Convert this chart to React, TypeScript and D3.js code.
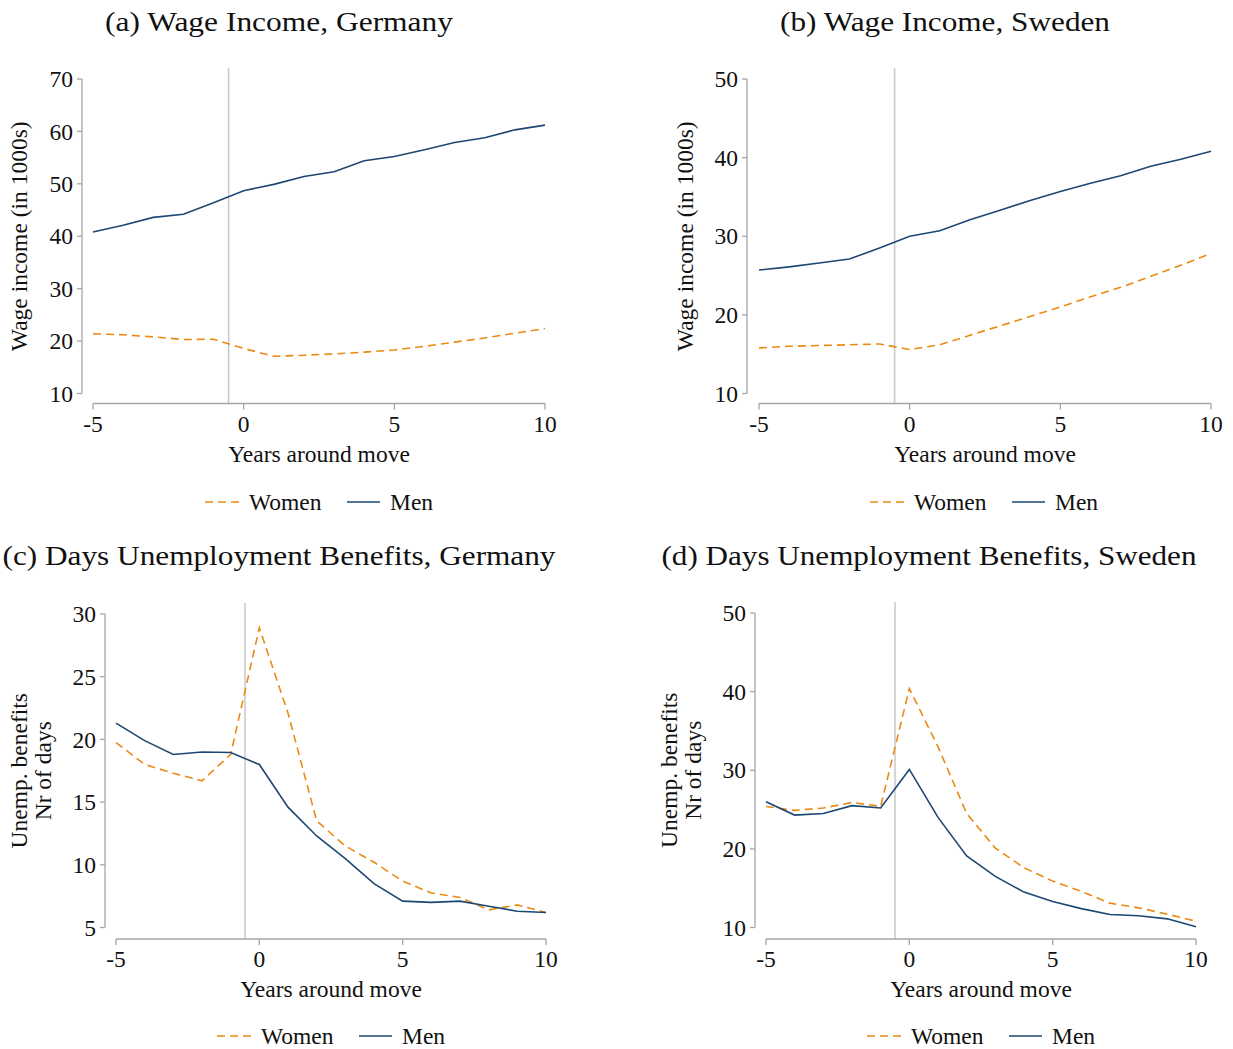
import React from 'react'
import * as d3 from 'd3'

// years around the move
const years = [-5, -4, -3, -2, -1, 0, 1, 2, 3, 4, 5, 6, 7, 8, 9, 10]

// (a) wage income Germany, in 1000s
const wageDeWomen = [21.4, 21.2, 20.8, 20.3, 20.35, 18.6, 17.1, 17.3, 17.55, 17.9, 18.3, 19.0, 19.8, 20.6, 21.5, 22.4]
const wageDeMen = [40.8, 42.1, 43.6, 44.2, 46.4, 48.7, 49.9, 51.4, 52.3, 54.4, 55.2, 56.5, 57.9, 58.8, 60.3, 61.2]

// (b) wage income Sweden, in 1000s
const wageSeWomen = [15.8, 16.0, 16.1, 16.2, 16.3, 15.6, 16.2, 17.4, 18.6, 19.8, 21.0, 22.3, 23.5, 24.9, 26.3, 27.8]
const wageSeMen = [25.7, 26.1, 26.6, 27.1, 28.5, 30.0, 30.7, 32.1, 33.3, 34.55, 35.7, 36.75, 37.7, 38.9, 39.8, 40.8]

// (c) days of unemployment benefits, Germany
const ubDeWomen = [19.75, 18.0, 17.3, 16.7, 18.8, 28.9, 22.1, 13.5, 11.5, 10.2, 8.7, 7.75, 7.4, 6.4, 6.8, 6.2]
const ubDeMen = [21.3, 19.9, 18.8, 19.0, 18.95, 18.0, 14.6, 12.3, 10.5, 8.5, 7.1, 7.0, 7.1, 6.7, 6.3, 6.2]

// (d) days of unemployment benefits, Sweden
const ubSeWomen = [25.4, 24.9, 25.2, 25.9, 25.4, 40.4, 33.0, 24.5, 20.1, 17.6, 15.9, 14.6, 13.1, 12.5, 11.7, 10.8]
const ubSeMen = [26.0, 24.3, 24.5, 25.5, 25.2, 30.1, 24.0, 19.1, 16.5, 14.5, 13.3, 12.4, 11.65, 11.5, 11.1, 10.1]

const xTicks = [-5, 0, 5, 10]
const wageDeTicks = [10, 20, 30, 40, 50, 60, 70]
const wageSeTicks = [10, 20, 30, 40, 50]
const ubDeTicks = [5, 10, 15, 20, 25, 30]
const ubSeTicks = [10, 20, 30, 40, 50]

const ORANGE = '#ea8a14'
const BLUE = '#1d4773'
const AXIS = '#a6a6a6'
const FONT = '"Liberation Serif", "Times New Roman", serif'
const FS = 23.5

type Panel = {
  title: string
  titleX: number
  titleY: number
  titleW: number
  yLabel: string[]
  yLabelX: number
  axisX: number
  x0: number
  x1: number
  yTop: number
  yBottom: number
  axisY: number
  yDomain: [number, number]
  yTicks: number[]
  women: number[]
  men: number[]
  legendY: number
  legendX: number
}

const panels: Panel[] = [
  {
    title: '(a) Wage Income, Germany', titleX: 279, titleY: 31, titleW: 348,
    yLabel: ['Wage income (in 1000s)'], yLabelX: 27,
    axisX: 82, x0: 93, x1: 545, yTop: 79, yBottom: 393.5, axisY: 403.5,
    yDomain: [10, 70], yTicks: wageDeTicks,
    women: wageDeWomen, men: wageDeMen, legendY: 502, legendX: 205,
  },
  {
    title: '(b) Wage Income, Sweden', titleX: 945, titleY: 31, titleW: 330,
    yLabel: ['Wage income (in 1000s)'], yLabelX: 693,
    axisX: 747, x0: 759, x1: 1211, yTop: 79, yBottom: 393.5, axisY: 403.5,
    yDomain: [10, 50], yTicks: wageSeTicks,
    women: wageSeWomen, men: wageSeMen, legendY: 502, legendX: 870,
  },
  {
    title: '(c) Days Unemployment Benefits, Germany', titleX: 279, titleY: 565, titleW: 553,
    yLabel: ['Unemp. benefits', 'Nr of days'], yLabelX: 27,
    axisX: 105, x0: 116, x1: 546, yTop: 614, yBottom: 927.5, axisY: 939,
    yDomain: [5, 30], yTicks: ubDeTicks,
    women: ubDeWomen, men: ubDeMen, legendY: 1036, legendX: 217,
  },
  {
    title: '(d) Days Unemployment Benefits, Sweden', titleX: 929, titleY: 565, titleW: 535,
    yLabel: ['Unemp. benefits', 'Nr of days'], yLabelX: 677,
    axisX: 755, x0: 766, x1: 1196, yTop: 613, yBottom: 927.5, axisY: 939,
    yDomain: [10, 50], yTicks: ubSeTicks,
    women: ubSeWomen, men: ubSeMen, legendY: 1036, legendX: 867,
  },
]

const PanelChart: React.FC<{ p: Panel }> = ({ p }) => {
  const x = d3.scaleLinear().domain([-5, 10]).range([p.x0, p.x1])
  const y = d3.scaleLinear().domain(p.yDomain).range([p.yBottom, p.yTop])
  const line = d3
    .line<number>()
    .x((_, i) => x(years[i]))
    .y((d) => y(d))
  const yMid = (p.yTop + p.yBottom) / 2
  const lx = p.legendX

  return (
    <g>
      <text
        x={p.titleX}
        y={p.titleY}
        textAnchor="middle"
        fontSize={27}
        fill="#111"
        textLength={p.titleW}
        lengthAdjust="spacingAndGlyphs"
      >
        {p.title}
      </text>

      {/* event line between -1 and 0 */}
      <line x1={x(-0.5)} x2={x(-0.5)} y1={p.yTop - 11} y2={p.axisY} stroke="#c9c9c9" strokeWidth={1.5} />

      {/* y axis */}
      <line x1={p.axisX} x2={p.axisX} y1={y(p.yDomain[1])} y2={y(p.yDomain[0])} stroke={AXIS} strokeWidth={1.3} />
      {p.yTicks.map((t) => (
        <g key={'y' + t}>
          <line x1={p.axisX - 5} x2={p.axisX} y1={y(t)} y2={y(t)} stroke={AXIS} strokeWidth={1.3} />
          <text x={p.axisX - 9} y={y(t)} dy="0.35em" textAnchor="end" fontSize={FS} fill="#111">
            {t}
          </text>
        </g>
      ))}

      {/* x axis */}
      <line x1={x(-5)} x2={x(10)} y1={p.axisY} y2={p.axisY} stroke={AXIS} strokeWidth={1.3} />
      {xTicks.map((t) => (
        <g key={'x' + t}>
          <line x1={x(t)} x2={x(t)} y1={p.axisY} y2={p.axisY + 6} stroke={AXIS} strokeWidth={1.3} />
          <text x={x(t)} y={p.axisY + 28} textAnchor="middle" fontSize={FS} fill="#111">
            {t}
          </text>
        </g>
      ))}
      <text x={(p.x0 + p.x1) / 2} y={p.axisY + 58} textAnchor="middle" fontSize={FS} fill="#111">
        Years around move
      </text>

      {/* y label */}
      {p.yLabel.map((s, i) => (
        <text
          key={s}
          transform={`translate(${p.yLabelX + i * 24},${yMid}) rotate(-90)`}
          textAnchor="middle"
          fontSize={FS}
          fill="#111"
        >
          {s}
        </text>
      ))}

      {/* series */}
      <path d={line(p.women) || ''} fill="none" stroke={ORANGE} strokeWidth={1.6} strokeDasharray="8,5" />
      <path d={line(p.men) || ''} fill="none" stroke={BLUE} strokeWidth={1.6} />

      {/* legend */}
      <line x1={lx} x2={lx + 35} y1={p.legendY} y2={p.legendY} stroke={ORANGE} strokeWidth={1.6} strokeDasharray="8,5" />
      <text x={lx + 44} y={p.legendY} dy="0.35em" fontSize={FS} fill="#111">
        Women
      </text>
      <line x1={lx + 142} x2={lx + 175} y1={p.legendY} y2={p.legendY} stroke={BLUE} strokeWidth={1.6} />
      <text x={lx + 185} y={p.legendY} dy="0.35em" fontSize={FS} fill="#111">
        Men
      </text>
    </g>
  )
}

const App: React.FC = () => {
  return (
    <svg
      width={1233}
      height={1049}
      style={{ position: 'absolute', left: 0, top: 0, background: '#fff', fontFamily: FONT }}
    >
      <rect width={1233} height={1049} fill="#fff" />
      {panels.map((p) => (
        <PanelChart key={p.title} p={p} />
      ))}
    </svg>
  )
}

export default App
